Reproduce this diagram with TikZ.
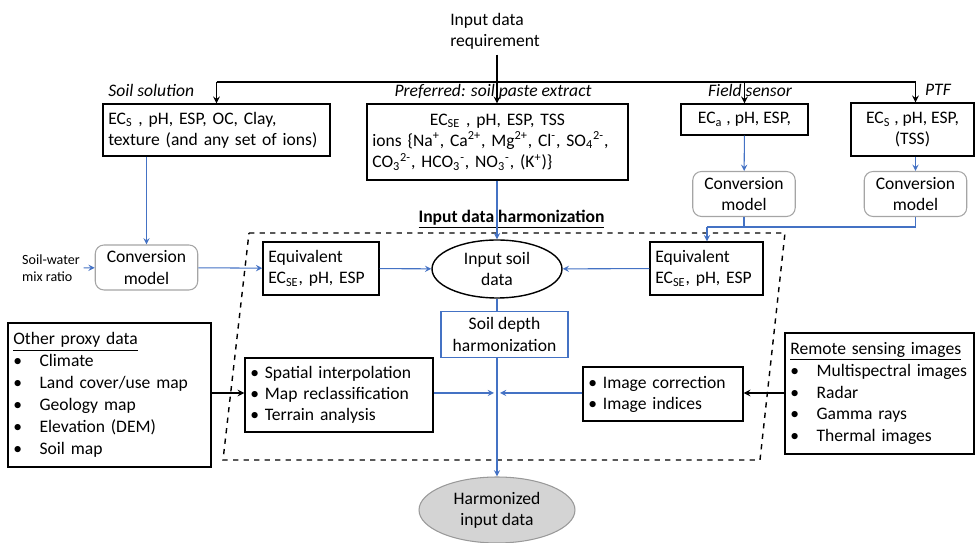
\documentclass[tikz,border=0pt]{standalone}
\usepackage{fontspec}
\setmainfont{Carlito}
\usepackage{xcolor}
\usepackage{tikz}
\usetikzlibrary{shapes,arrows,positioning,fit,calc}
\definecolor{flowblue}{HTML}{4472C4}
\definecolor{modelgray}{HTML}{A5A5A5}
\definecolor{harmfill}{HTML}{D4D4D4}

\begin{document}
\begin{tikzpicture}[
    x=0.02cm, y=-0.02cm,
    font=\fontsize{10}{12}\selectfont,
    inbox/.style={rectangle, draw, line width=0.8pt, inner xsep=3pt, inner ysep=2pt, align=left},
    model/.style={rectangle, draw=modelgray, rounded corners=5pt, line width=0.6pt, minimum width=2.05cm, minimum height=0.88cm, align=center},
    tag/.style={font=\fontsize{10}{12}\selectfont\itshape, inner sep=0pt},
    feed/.style={->, line width=0.7pt, >=stealth},
    bluefeed/.style={->, draw=flowblue, line width=0.6pt, >=stealth},
    bline/.style={draw=flowblue, line width=0.6pt}
]
\useasboundingbox (0,0) rectangle (975,543);

\node[align=left, inner sep=3pt] (req) at (495,31) {Input data\\requirement};

\node[inbox, text width=4.33cm, minimum height=1.04cm] (soilsol) at (216.5,130)
    {EC\textsubscript{S} , pH, ESP, OC, Clay,\\texture (and any set of ions)};
\node[inbox, text width=5.01cm, minimum height=1.52cm] (paste) at (497.5,142)
    {\mbox{}\hfill EC\textsubscript{SE} , pH, ESP, TSS\hfill\mbox{}\\
     ions \{Na\textsuperscript{+}, Ca\textsuperscript{2+}, Mg\textsuperscript{2+}, Cl\textsuperscript{-}, SO\textsubscript{4}\textsuperscript{2-},\\
     CO\textsubscript{3}\textsuperscript{2-}, HCO\textsubscript{3}\textsuperscript{-}, NO\textsubscript{3}\textsuperscript{-}, (K\textsuperscript{+})\}};
\node[inbox, align=center, minimum width=2.54cm, minimum height=0.62cm] (field) at (744.5,119.5)
    {EC\textsubscript{a} , pH, ESP,};
\node[inbox, align=center, minimum width=2.46cm, minimum height=1.06cm] (ptf) at (912.5,129.5)
    {EC\textsubscript{S} , pH, ESP,\\(TSS)};

\node[tag, anchor=base west] (soilsoltag) at (108,97) {Soil solution};
\node[tag, anchor=base] (pastetag) at (493,97) {Preferred: soil paste extract};
\node[tag, anchor=base] (fieldtag) at (750,97) {Field sensor};
\node[tag, anchor=base] (ptftag) at (938,96) {PTF};

\node[model] (convF) at (744,194) {Conversion\\model};
\node[model] (convP) at (915.5,194) {Conversion\\model};
\node[model] (convL) at (146.5,267.5) {Conversion\\model};
\node[align=left, font=\fontsize{8}{9.5}\selectfont, inner sep=2pt] (ratio) at (51,268) {Soil-water\\mix ratio};

\node[font=\fontsize{10}{12}\selectfont\bfseries, inner sep=0pt] (hartitle) at (511.5,219) {\underline{Input data harmonization}};
\draw[dashed, line width=0.8pt] (249,233) -- (785,233) -- (760,460) -- (223,460) -- cycle;

\node[inbox, text width=2.11cm, minimum height=1.06cm] (eqL) at (321,268.5) {Equivalent\\EC\textsubscript{SE}, pH, ESP};
\node[inbox, text width=2.05cm, minimum height=1.06cm] (eqR) at (706.5,268.5) {Equivalent\\EC\textsubscript{SE}, pH, ESP};
\node[ellipse, draw, line width=0.8pt, inner sep=0pt, minimum width=2.6cm, minimum height=1.16cm, align=center] (insoil) at (497,269) {Input soil\\data};
\node[rectangle, draw=flowblue, line width=0.6pt, align=center, minimum width=2.54cm, minimum height=0.86cm] (depth) at (504.5,334.5) {Soil depth\\harmonization};

\node[inbox, text width=3.55cm, minimum height=1.48cm] (spatial) at (339,395)
    {\textbullet\ Spatial interpolation\\\textbullet\ Map reclassification\\\textbullet\ Terrain analysis};
\node[inbox, text width=2.99cm, minimum height=1.08cm] (image) at (663,394)
    {\textbullet\ Image correction\\\textbullet\ Image indices};
\node[inbox, text width=3.85cm, minimum height=2.88cm, font=\fontsize{10}{12.5}\selectfont] (proxy) at (109.5,395)
    {\underline{Other proxy data}\\
     \textbullet\hspace{10pt}Climate\\
     \textbullet\hspace{10pt}Land cover/use map\\
     \textbullet\hspace{10pt}Geology map\\
     \textbullet\hspace{10pt}Elevation (DEM)\\
     \textbullet\hspace{10pt}Soil map};
\node[inbox, text width=3.57cm, minimum height=2.42cm, font=\fontsize{10}{12.5}\selectfont] (remote) at (879.5,393.5)
    {\underline{Remote sensing images}\\
     \textbullet\hspace{10pt}Multispectral images\\
     \textbullet\hspace{10pt}Radar\\
     \textbullet\hspace{10pt}Gamma rays\\
     \textbullet\hspace{10pt}Thermal images};

\node[ellipse, fill=harmfill, draw=gray!80, line width=0.6pt, inner sep=0pt, minimum width=3.12cm, minimum height=1.32cm, align=center] (harm) at (497,510) {Harmonized\\input data};

\coordinate (bus) at (497,82);
\coordinate (meet) at (707,227);
\coordinate (jl) at (494,393);
\coordinate (jr) at (500,393);

\draw[line width=1.2pt] (req.south -| bus) -- (bus);
\draw[line width=0.8pt] (bus -| soilsol.north) -- (bus -| convP.north);
\draw[feed] (bus) -- (bus |- paste.north);
\draw[feed] (bus -| soilsol.north) -- (soilsol.north);
\draw[feed] (bus -| field.north) -- (field.north);
\draw[feed] (bus -| convP.north) -- (convP.north |- ptf.north);

\draw[bluefeed] (soilsol.south -| convL.north) -- (convL.north);
\draw[bluefeed] (ratio) -- (convL);
\draw[bluefeed] (convL) -- (eqL);
\draw[bluefeed] (eqL) -- (insoil);
\draw[bluefeed] (eqR) -- (insoil);
\draw[bluefeed] (paste.south -| insoil.north) -- (insoil.north);
\draw[bluefeed] (field) -- (convF);
\draw[bluefeed] (ptf.south -| convP.north) -- (convP.north);
\draw[bline] (convF.south) |- (meet);
\draw[bline] (convP.south) |- (meet);
\draw[bluefeed] (meet) -- (meet |- eqR.north);

\draw[bline] (insoil.south) -- (insoil.south |- depth.north);
\draw[bluefeed] (insoil.south |- depth.south) -- (harm.north);
\draw[bluefeed] (spatial.east |- jl) -- (jl);
\draw[bluefeed] (image.west |- jr) -- (jr);
\draw[feed] (proxy.east |- jl) -- (spatial.west |- jl);
\draw[feed] (remote.west |- jr) -- (image.east |- jr);

\end{tikzpicture}
\end{document}
